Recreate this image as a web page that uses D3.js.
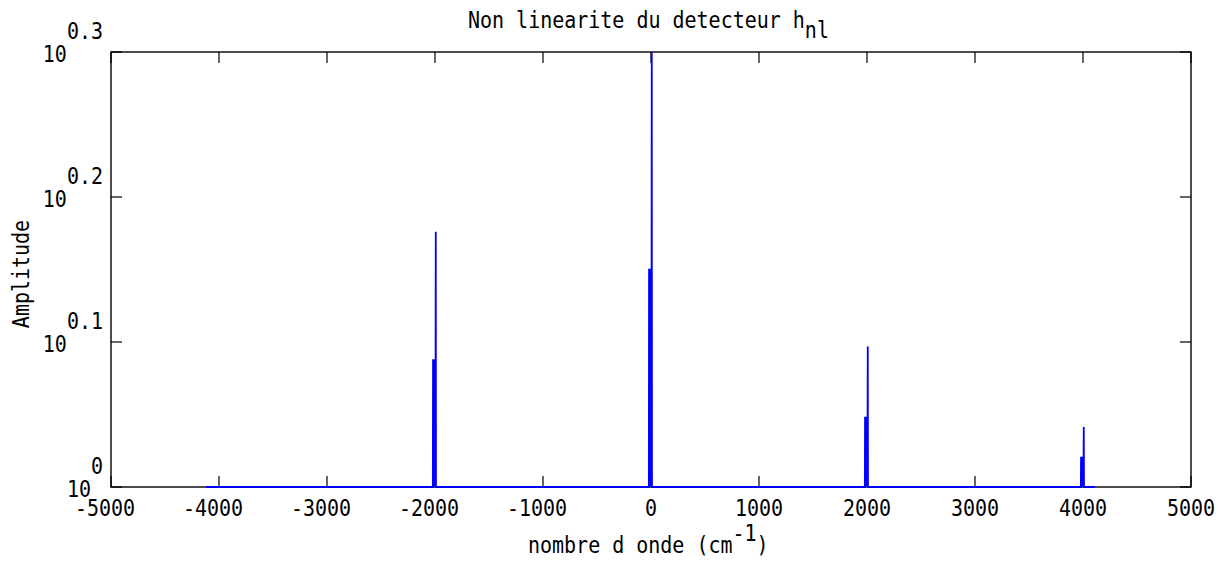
<!DOCTYPE html>
<html><head><meta charset="utf-8">
<script src="https://cdn.jsdelivr.net/npm/d3@7"></script>
<style>
body{margin:0;background:#fff}
text{font-family:"DejaVu Sans Mono",monospace;font-size:20px;fill:#000}
</style>
</head><body>
<svg id="chart" width="1225" height="561"></svg>
<script>
// Spectrum samples (wavenumber in cm^-1, amplitude)
const wavenumber = [
  -4120,
  -2020,-2018,-2016,-2014,-2012,-2010,-2008,-2006,-2004,-2002,-2000,-1998,-1996,-1993,-1991,
  -20,-18,-16,-14,-12,-10,-8,-6,-4,-2,0,2,4,7,9,
  1980,1982,1984,1986,1988,1990,1992,1994,1996,1998,2000,2002,2004,2007,2009,
  3980,3982,3984,3986,3988,3990,3992,3994,3996,3998,4000,4002,4004,4007,4009,
  4110
];
const amplitude = [
  1,
  1,1.225,1,1.225,1,1.225,1,1.225,1,1.225,1,1.225,1,1.5,1,
  1,1.414,1,1.414,1,1.414,1,1.414,1,1.414,1,1.414,1,2.0,1,
  1,1.118,1,1.118,1,1.118,1,1.118,1,1.118,1,1.118,1,1.25,1,
  1,1.049,1,1.049,1,1.049,1,1.049,1,1.049,1,1.049,1,1.1,1,
  1
];
const xTickValues = [-5000,-4000,-3000,-2000,-1000,0,1000,2000,3000,4000,5000];
const xTickLabels = ["-5000","-4000","-3000","-2000","-1000","0","1000","2000","3000","4000","5000"];
const yTickExponents = ["0","0.1","0.2","0.3"];
const titleMain = "Non linearite du detecteur h";
const titleSub = "nl";
const xLabelMain = "nombre d onde (cm";
const xLabelSup = "-1";
const yLabel = "Amplitude";

const svg = d3.select("#chart");
const L = 111, R = 1191, T = 52, B = 487;
const x = d3.scaleLinear().domain([-5000, 5000]).range([L, R]);
const y = d3.scaleLog().domain([1, Math.pow(10, 0.3)]).range([B, T]);
const SY = 1.16;

// frame
svg.append("rect").attr("x", L).attr("y", T).attr("width", R - L).attr("height", B - T)
  .attr("fill", "none").attr("stroke", "#000").attr("stroke-width", 1.4);

const tk = 11;
const ticks = svg.append("g").attr("stroke", "#000").attr("stroke-width", 1.2);
xTickValues.forEach(v => {
  const px = x(v);
  ticks.append("line").attr("x1", px).attr("x2", px).attr("y1", B).attr("y2", B - tk);
  ticks.append("line").attr("x1", px).attr("x2", px).attr("y1", T).attr("y2", T + tk);
});
yTickExponents.forEach(e => {
  const py = y(Math.pow(10, +e));
  ticks.append("line").attr("x1", L).attr("x2", L + tk).attr("y1", py).attr("y2", py);
  ticks.append("line").attr("x1", R).attr("x2", R - tk).attr("y1", py).attr("y2", py);
});

// x tick labels
xTickValues.forEach((v, i) => {
  const lab = xTickLabels[i];
  const off = lab.startsWith("-") ? -6 : 0;
  svg.append("text").attr("text-anchor", "middle")
    .attr("transform", `translate(${x(v) + off},516) scale(1,${SY})`)
    .text(lab);
});

// y tick labels
yTickExponents.forEach(e => {
  const py = y(Math.pow(10, +e));
  const t = svg.append("text").attr("text-anchor", "end")
    .attr("transform", `translate(103,${py + 10}) scale(1,${SY})`);
  t.append("tspan").text("10");
  t.append("tspan").attr("dy", -20).text(e);
});

// title
const tt = svg.append("text").attr("text-anchor", "start")
  .attr("transform", `translate(468,28) scale(1,${SY})`);
tt.append("tspan").text(titleMain);
tt.append("tspan").attr("dy", 9).text(titleSub);

// x label
const xl = svg.append("text").attr("text-anchor", "start")
  .attr("transform", `translate(528,553) scale(1,${SY})`);
xl.append("tspan").text(xLabelMain);
xl.append("tspan").attr("dy", -10).text(xLabelSup);
xl.append("tspan").attr("dy", 10).text(")");

// y label
svg.append("text").attr("text-anchor", "middle")
  .attr("transform", `translate(29,274) rotate(-90) scale(1,${SY})`)
  .text(yLabel);

// clip + line
svg.append("clipPath").attr("id", "clip").append("rect")
  .attr("x", L).attr("y", T).attr("width", R - L).attr("height", B - T + 2);
const pts = wavenumber.map((w, i) => [w, amplitude[i]]);
svg.append("path").datum(pts)
  .attr("clip-path", "url(#clip)")
  .attr("fill", "none").attr("stroke", "#0000ff").attr("stroke-width", 1.8)
  .attr("d", d3.line().x(d => x(d[0])).y(d => y(d[1])));
</script>
</body></html>
